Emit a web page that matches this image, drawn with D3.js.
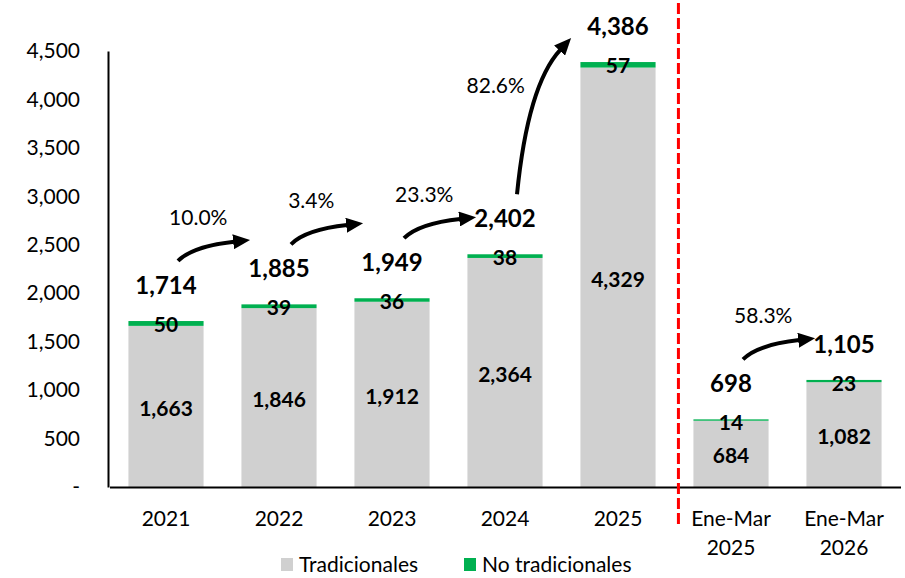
<!DOCTYPE html>
<html>
<head>
<meta charset="utf-8">
<script src="https://cdn.jsdelivr.net/npm/d3@7"></script>
<style>
    body { margin: 0; background: #fff; }
    text { font-family: Lato, "Open Sans", sans-serif; fill: #000; }
</style>
</head>
<body>
<div id="chart"></div>
<script>

// data
const categories = ["2021", "2022", "2023", "2024", "2025", "Ene-Mar 2025", "Ene-Mar 2026"];
const tradicionales = [1663, 1846, 1912, 2364, 4329, 684, 1082];
const noTradicionales = [50, 39, 36, 38, 57, 14, 23];
const totals = [1714, 1885, 1949, 2402, 4386, 698, 1105];
const growthLabels = ["10.0%", "3.4%", "23.3%", "82.6%", "58.3%"];
const growthPairs = [[0, 1], [1, 2], [2, 3], [3, 4], [5, 6]];
const yTicks = [0, 500, 1000, 1500, 2000, 2500, 3000, 3500, 4000, 4500];
const legendItems = ["Tradicionales", "No tradicionales"];

const width = 905, height = 578;
const gray = "#d0d0d0", green = "#00b050";

const svg = d3.select("#chart").append("svg")
    .attr("width", width)
    .attr("height", height);

const x = d3.scaleBand()
    .domain(categories)
    .range([109.5, 900.5])
    .paddingInner(0.335)
    .paddingOuter(0.1675);

const y = d3.scaleLinear()
    .domain([0, 4500])
    .range([487, 51]);

const fmt = d3.format(",");
const cx = d => x(d) + x.bandwidth() / 2;

// y axis
const yAxis = svg.append("g")
    .attr("transform", "translate(108,0)")
    .call(d3.axisLeft(y).tickValues(yTicks).tickSize(0).tickPadding(28)
        .tickFormat(d => d === 0 ? "-" : fmt(d)));
yAxis.select(".domain").attr("stroke", "#000").attr("stroke-width", 2);
yAxis.selectAll("text")
    .style("font-family", "Lato, 'Open Sans', sans-serif")
    .style("font-size", "21px")
    .attr("fill", "#000");

// bars
const bars = svg.append("g");
bars.selectAll("rect.trad").data(categories)
    .enter().append("rect")
    .attr("class", "trad")
    .attr("x", d => x(d))
    .attr("width", x.bandwidth())
    .attr("y", (d, i) => y(tradicionales[i]))
    .attr("height", (d, i) => y(0) - y(tradicionales[i]))
    .attr("fill", gray);

bars.selectAll("rect.notrad").data(categories)
    .enter().append("rect")
    .attr("class", "notrad")
    .attr("x", d => x(d))
    .attr("width", x.bandwidth())
    .attr("y", (d, i) => y(tradicionales[i] + noTradicionales[i]))
    .attr("height", (d, i) => y(tradicionales[i]) - y(tradicionales[i] + noTradicionales[i]))
    .attr("fill", green);

// x axis
const xAxis = svg.append("g")
    .attr("transform", "translate(0,487)")
    .call(d3.axisBottom(x).tickSize(0).tickFormat(""));
xAxis.select(".domain").attr("stroke", "#000").attr("stroke-width", 2);

const xLabels = svg.append("g").selectAll("text").data(categories)
    .enter().append("text")
    .attr("text-anchor", "middle")
    .style("font-size", "21px");
xLabels.each(function (d) {
    const parts = d.split(" ");
    d3.select(this).selectAll("tspan").data(parts)
        .enter().append("tspan")
        .attr("x", cx(d))
        .attr("y", (p, j) => 526 + j * 29)
        .text(p => p);
});

// red divider between yearly and quarterly values
const divX = x(categories[5]) - 15;
svg.append("line")
    .attr("x1", divX).attr("x2", divX)
    .attr("y1", 3).attr("y2", 527)
    .attr("stroke", "#ff0000")
    .attr("stroke-width", 3)
    .attr("stroke-dasharray", "11,4");

// value labels
const labels = svg.append("g").style("font-weight", "bold");
labels.selectAll("text.total").data(categories)
    .enter().append("text")
    .attr("class", "total")
    .attr("x", d => cx(d))
    .attr("y", (d, i) => y(totals[i]) - 36)
    .attr("dy", "0.36em")
    .attr("text-anchor", "middle")
    .style("font-size", "24px")
    .text((d, i) => fmt(totals[i]));

labels.selectAll("text.notrad").data(categories)
    .enter().append("text")
    .attr("class", "notrad")
    .attr("x", d => cx(d))
    .attr("y", (d, i) => y(totals[i]) + 3.5)
    .attr("dy", "0.36em")
    .attr("text-anchor", "middle")
    .style("font-size", "21px")
    .text((d, i) => fmt(noTradicionales[i]));

labels.selectAll("text.trad").data(categories)
    .enter().append("text")
    .attr("class", "trad")
    .attr("x", d => cx(d))
    .attr("y", (d, i) => y(tradicionales[i] / 2) + 2)
    .attr("dy", "0.36em")
    .attr("text-anchor", "middle")
    .style("font-size", "21px")
    .text((d, i) => fmt(tradicionales[i]));

// growth arrows
svg.append("defs").append("marker")
    .attr("id", "head")
    .attr("viewBox", "0 0 17 15")
    .attr("refX", 1).attr("refY", 7.5)
    .attr("markerWidth", 17).attr("markerHeight", 15)
    .attr("markerUnits", "userSpaceOnUse")
    .attr("orient", "auto")
    .append("path")
    .attr("d", "M0,0L17,7.5L0,15Z")
    .attr("fill", "#000");

const arrows = svg.append("g");
growthPairs.forEach(([a, b], k) => {
    const la = y(totals[a]) - 36, lb = y(totals[b]) - 36;
    const S = [cx(categories[a]) + 12, la - 24];
    const ty0 = Math.min(S[1] - 21, lb + 12);
    const steep = (S[1] - ty0) / Math.hypot(cx(categories[b]) - 30 - S[0], S[1] - ty0);
    const T = [cx(categories[b]) - 27 - 24 * steep * steep, ty0];
    const dx = T[0] - S[0], dy = S[1] - T[1];
    const C = [S[0] + 0.2 * dx, T[1] + 0.3 * dy];
    // stop the line at the base of the head
    const tx = T[0] - C[0], ty = T[1] - C[1], tl = Math.hypot(tx, ty);
    const E = [T[0] - 16 * tx / tl, T[1] - 16 * ty / tl];
    arrows.append("path")
        .attr("d", `M${S[0]},${S[1]}Q${C[0]},${C[1]} ${E[0]},${E[1]}`)
        .attr("fill", "none")
        .attr("stroke", "#000")
        .attr("stroke-width", 4)
        .attr("marker-end", "url(#head)");

    const M = [0.25 * S[0] + 0.5 * C[0] + 0.25 * T[0], 0.25 * S[1] + 0.5 * C[1] + 0.25 * T[1]];
    const len = Math.hypot(dx, dy);
    const n = [-dy / len, -dx / len];
    const off = 26 + 22 * Math.abs(n[0]);
    arrows.append("text")
        .attr("x", M[0] + n[0] * off + 4)
        .attr("y", M[1] + n[1] * off)
        .attr("dy", "0.36em")
        .attr("text-anchor", "middle")
        .style("font-size", "21px")
        .text(growthLabels[k]);
});

// legend
const legend = svg.append("g").attr("transform", "translate(281,558)");
const legendX = [0, 183];
legendItems.forEach((name, i) => {
    legend.append("rect")
        .attr("x", legendX[i]).attr("y", 0)
        .attr("width", 12).attr("height", 13)
        .attr("fill", i === 0 ? gray : green);
    legend.append("text")
        .attr("x", legendX[i] + 18)
        .attr("y", 14)
        .style("font-size", "21px")
        .text(name);
});

</script>
</body>
</html>
